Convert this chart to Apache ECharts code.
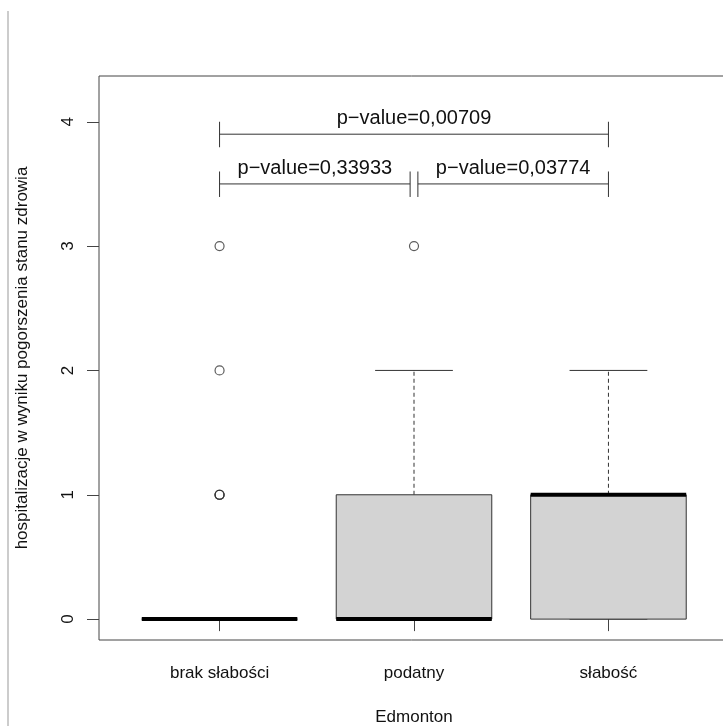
<!DOCTYPE html>
<html>
<head>
<meta charset="utf-8">
<script src="https://cdn.jsdelivr.net/npm/echarts@6/dist/echarts.min.js"></script>
<style>
  html, body { margin: 0; padding: 0; background: #fff; }
  #chart { width: 723px; height: 726px; }
</style>
</head>
<body>
<div id="chart"></div>
<script>
// dane wykresu
var categories = ["brak słabości", "podatny", "słabość"];
var positions = [1, 2, 3];
var lowWhisker = [0, 0, 0];
var q1 = [0, 0, 0];
var median = [0, 0, 1];
var q3 = [0, 1, 1];
var highWhisker = [0, 2, 2];
// obserwacje odstające: [grupa, wartość]
var outlierGroup = [1, 1, 1, 1, 1, 2];
var outlierValue = [1, 1, 1, 2, 3, 3];
var yTicks = [0, 1, 2, 3, 4];
// porównania (p-value)
var bracketFrom = [1, 1, 2.02];
var bracketTo = [3, 1.98, 3];
var bracketY = [3.9, 3.5, 3.5];
var bracketLabels = ["p−value=0,00709", "p−value=0,33933", "p−value=0,03774"];

var FONT = "'Liberation Sans', Arial, sans-serif";
var INK = "#333";

(function () {
    var myChart = echarts.init(document.getElementById("chart"));

    var boxData = positions.map(function (p, i) {
        return [p, lowWhisker[i], q1[i], median[i], q3[i], highWhisker[i]];
    });
    var outlierData = outlierGroup.map(function (g, i) {
        return [g, outlierValue[i]];
    });
    var bracketData = bracketFrom.map(function (f, i) {
        return [f, bracketTo[i], bracketY[i]];
    });

    function seg(p1, p2, style) {
        return {
            type: "line",
            shape: { x1: p1[0], y1: p1[1], x2: p2[0], y2: p2[1] },
            style: style
        };
    }

    // pudełko w stylu R
    function renderBox(params, api) {
        var x = api.value(0);
        var lo = api.value(1), a = api.value(2), m = api.value(3), b = api.value(4), hi = api.value(5);
        var half = api.size([0.8, 0])[0] / 2;
        var staple = half / 2;
        var c = function (y) { return api.coord([x, y]); };
        var pLo = c(lo), pA = c(a), pM = c(m), pB = c(b), pHi = c(hi);
        var thin = { stroke: INK, lineWidth: 1 };
        var dash = { stroke: INK, lineWidth: 1, lineDash: [4, 3] };
        var kids = [];
        if (hi > b) kids.push(seg(pB, pHi, dash));
        if (lo < a) kids.push(seg(pLo, pA, dash));
        kids.push(seg([pHi[0] - staple, pHi[1]], [pHi[0] + staple, pHi[1]], thin));
        kids.push(seg([pLo[0] - staple, pLo[1]], [pLo[0] + staple, pLo[1]], thin));
        kids.push({
            type: "rect",
            shape: { x: pB[0] - half, y: pB[1], width: half * 2, height: pA[1] - pB[1] },
            style: { fill: "#d3d3d3", stroke: INK, lineWidth: 1 }
        });
        kids.push(seg([pM[0] - half, pM[1]], [pM[0] + half, pM[1]], { stroke: "#000", lineWidth: 4 }));
        return { type: "group", children: kids };
    }

    // klamry z p-value
    function renderBracket(params, api) {
        var f = api.value(0), t = api.value(1), y = api.value(2);
        var p1 = api.coord([f, y]), p2 = api.coord([t, y]);
        var top1 = api.coord([f, y + 0.1]), bot1 = api.coord([f, y - 0.105]);
        var top2 = api.coord([t, y + 0.1]), bot2 = api.coord([t, y - 0.105]);
        var lab = api.coord([(f + t) / 2, y + 0.125]);
        var st = { stroke: INK, lineWidth: 1 };
        return {
            type: "group",
            children: [
                seg(p1, p2, st),
                seg(top1, bot1, st),
                seg(top2, bot2, st),
                {
                    type: "text",
                    x: lab[0], y: lab[1],
                    style: {
                        text: bracketLabels[params.dataIndex],
                        fill: "#111",
                        font: "20px " + FONT,
                        align: "center",
                        verticalAlign: "middle"
                    }
                }
            ]
        };
    }

    var option = {
        animation: false,
        textStyle: { fontFamily: FONT },
        graphic: [{
            type: "line",
            shape: { x1: 8, y1: 11, x2: 8, y2: 726 },
            style: { stroke: "#cccccc", lineWidth: 2 }
        }],
        grid: {
            left: 99, top: 76, width: 630, height: 564,
            outerBoundsMode: "none",
            show: true, borderColor: "#444", borderWidth: 1
        },
        xAxis: {
            type: "value",
            min: 0.38,
            max: 3.62,
            name: "Edmonton",
            nameLocation: "middle",
            nameGap: 69,
            nameTextStyle: { color: "#111", fontSize: 17 },
            axisLine: { show: false },
            splitLine: { show: false },
            axisTick: { show: true, length: 12, customValues: positions, lineStyle: { color: "#444" } },
            axisLabel: {
                customValues: positions,
                margin: 25,
                color: "#111",
                fontSize: 17,
                formatter: function (v) { return categories[Math.round(v) - 1]; }
            }
        },
        yAxis: {
            type: "value",
            min: -0.168,
            max: 4.368,
            name: "hospitalizacje w wyniku pogorszenia stanu zdrowia",
            nameLocation: "middle",
            nameGap: 68,
            nameRotate: 90,
            nameTextStyle: { color: "#111", fontSize: 17 },
            axisLine: { show: false },
            splitLine: { show: false },
            axisTick: { show: true, length: 12, customValues: yTicks, lineStyle: { color: "#444" } },
            axisLabel: {
                customValues: yTicks,
                rotate: 90,
                margin: 22,
                color: "#111",
                fontSize: 17
            }
        },
        series: [
            {
                type: "custom",
                name: "box",
                renderItem: renderBox,
                data: boxData,
                encode: { x: 0, y: [1, 2, 3, 4, 5] }
            },
            {
                type: "scatter",
                name: "outliers",
                data: outlierData,
                symbol: "circle",
                symbolSize: 9,
                itemStyle: { color: "rgba(0,0,0,0)", borderColor: "#333", borderWidth: 1.2 }
            },
            {
                type: "custom",
                name: "brackets",
                renderItem: renderBracket,
                data: bracketData,
                encode: { x: [0, 1], y: 2 }
            }
        ]
    };

    myChart.setOption(option);
    window.addEventListener("resize", function () {
        myChart.resize();
    });
})();
</script>
</body>
</html>
